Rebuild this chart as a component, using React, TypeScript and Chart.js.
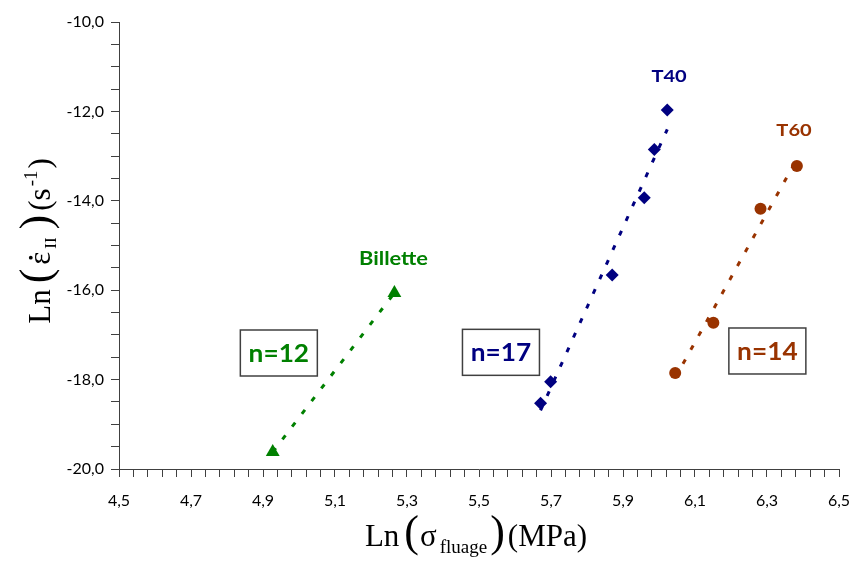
import React, { useEffect, useRef } from 'react';
import { Chart, registerables } from 'chart.js';

Chart.register(...registerables);

// ---- data ----
const billetteX = [4.927, 5.265];
const billetteY = [-19.62, -16.06];
const t40X = [5.671, 5.699, 5.870, 5.959, 5.987, 6.023];
const t40Y = [-18.53, -18.05, -15.66, -13.93, -12.85, -11.97];
const t60X = [6.045, 6.151, 6.282, 6.383];
const t60Y = [-17.85, -16.73, -14.18, -13.22];

// trend line end points
const billetteTrendX = [4.927, 5.265];
const billetteTrendY = [-19.62, -16.06];
const t40TrendX = [5.671, 6.023];
const t40TrendY = [-18.69, -12.40];
const t60TrendX = [6.045, 6.383];
const t60TrendY = [-17.96, -13.07];

const seriesNames = ['Billette', 'T40', 'T60'];
const exponentLabels = ['n=12', 'n=17', 'n=14'];
const xMajorTicks = [4.5, 4.7, 4.9, 5.1, 5.3, 5.5, 5.7, 5.9, 6.1, 6.3, 6.5];
const yMajorTicks = [-20, -18, -16, -14, -12, -10];

const COLORS = ['#008000', '#000080', '#993300'];

// annotation anchors in data coordinates
const nameAnchors = [
  { x: 5.2625, y: -15.3 },
  { x: 6.028, y: -11.21 },
  { x: 6.375, y: -12.43 },
];
const nameSizes = [18.5, 17, 17];
const boxAnchors = [
  { x: 4.944, y: -17.405 },
  { x: 5.561, y: -17.39 },
  { x: 6.301, y: -17.36 },
];

const zip = (xs: number[], ys: number[]) => xs.map((x, i) => ({ x, y: ys[i] }));

const isMajor = (v: number, majors: number[]) => majors.some((m) => Math.abs(m - v) < 1e-6);

type Seg = { t: string; size: number; dy?: number; gap?: number; dot?: boolean };

function drawRich(ctx: CanvasRenderingContext2D, segs: Seg[], cx: number, cy: number, rot: number) {
  ctx.save();
  ctx.translate(cx, cy);
  ctx.rotate(rot);
  ctx.fillStyle = '#000';
  ctx.textBaseline = 'alphabetic';
  ctx.textAlign = 'left';
  let total = 0;
  const widths = segs.map((s) => {
    ctx.font = `${s.size}px "Liberation Serif", "Times New Roman", serif`;
    const w = ctx.measureText(s.t).width;
    total += w + (s.gap || 0);
    return w;
  });
  let x = -total / 2;
  segs.forEach((s, i) => {
    x += s.gap || 0;
    ctx.font = `${s.size}px "Liberation Serif", "Times New Roman", serif`;
    ctx.fillText(s.t, x, s.dy || 0);
    if (s.dot) {
      ctx.beginPath();
      ctx.arc(x + widths[i] / 2 + 0.5, -s.size * 0.62, 1.9, 0, Math.PI * 2);
      ctx.fill();
    }
    x += widths[i];
  });
  ctx.restore();
}

function drawStretched(ctx: CanvasRenderingContext2D, text: string, cx: number, cy: number, font: string, color: string, sx: number) {
  ctx.save();
  ctx.translate(cx, cy);
  ctx.scale(sx, 1);
  ctx.font = font;
  ctx.fillStyle = color;
  ctx.textAlign = 'center';
  ctx.textBaseline = 'middle';
  ctx.fillText(text, 0, 0);
  ctx.restore();
}

const annotationPlugin = {
  id: 'annotations',
  afterDatasetsDraw(chart: any) {
    const ctx: CanvasRenderingContext2D = chart.ctx;
    const xs = chart.scales.x;
    const ys = chart.scales.y;
    seriesNames.forEach((name, i) => {
      const a = nameAnchors[i];
      drawStretched(ctx, name, xs.getPixelForValue(a.x), ys.getPixelForValue(a.y),
        `bold ${nameSizes[i]}px Lato, "Open Sans", sans-serif`, COLORS[i], 1.18);
    });
    exponentLabels.forEach((lab, i) => {
      const a = boxAnchors[i];
      const cx = xs.getPixelForValue(a.x);
      const cy = ys.getPixelForValue(a.y);
      const w = 77, h = 46;
      ctx.save();
      ctx.fillStyle = '#ffffff';
      ctx.fillRect(cx - w / 2, cy - h / 2, w, h);
      ctx.strokeStyle = '#404040';
      ctx.lineWidth = 1.5;
      ctx.strokeRect(cx - w / 2, cy - h / 2, w, h);
      ctx.restore();
      drawStretched(ctx, lab, cx, cy + 1, 'bold 25px Lato, "Open Sans", sans-serif', COLORS[i], 1.05);
    });
  },
  afterDraw(chart: any) {
    const ctx: CanvasRenderingContext2D = chart.ctx;
    // x title
    drawRich(ctx, [
      { t: 'Ln', size: 31 },
      { t: '(', size: 44, gap: 5 },
      { t: 'σ', size: 31, gap: 1 },
      { t: 'fluage', size: 19, dy: 7, gap: 3 },
      { t: ')', size: 44, gap: 3 },
      { t: '(MPa)', size: 31, gap: 3 },
    ], 476, 546, 0);
    // y title
    drawRich(ctx, [
      { t: 'Ln', size: 31 },
      { t: '(', size: 44, gap: 6 },
      { t: 'ε', size: 31, gap: 4, dot: true },
      { t: 'II', size: 17, dy: 6, gap: 3 },
      { t: ')', size: 44, gap: 8 },
      { t: '(s', size: 31, gap: 4 },
      { t: '-1', size: 19, dy: -13, gap: 2 },
      { t: ')', size: 31, gap: 2 },
    ], 50, 241, -Math.PI / 2);
  },
};

export default function App() {
  const ref = useRef<HTMLCanvasElement | null>(null);
  useEffect(() => {
    if (!ref.current) return;
    const axisColor = '#404040';
    const tickFont = { family: 'Lato, "Open Sans", sans-serif', size: 16 };
    const chart = new Chart(ref.current, {
      type: 'scatter',
      data: {
        datasets: [
          {
            label: seriesNames[0], data: zip(billetteX, billetteY), showLine: false,
            pointStyle: 'triangle', pointRadius: 8, backgroundColor: COLORS[0], borderColor: COLORS[0], borderWidth: 0,
          },
          {
            label: seriesNames[1], data: zip(t40X, t40Y), showLine: false,
            pointStyle: 'rectRot', pointRadius: 6.5, backgroundColor: COLORS[1], borderColor: COLORS[1], borderWidth: 0,
          },
          {
            label: seriesNames[2], data: zip(t60X, t60Y), showLine: false,
            pointStyle: 'circle', pointRadius: 6, backgroundColor: COLORS[2], borderColor: COLORS[2], borderWidth: 0,
          },
          {
            label: 'trend Billette', data: zip(billetteTrendX, billetteTrendY), showLine: true, pointRadius: 0,
            borderColor: COLORS[0], borderWidth: 3, borderDash: [5, 11], fill: false,
          },
          {
            label: 'trend T40', data: zip(t40TrendX, t40TrendY), showLine: true, pointRadius: 0,
            borderColor: COLORS[1], borderWidth: 3, borderDash: [5, 11], fill: false,
          },
          {
            label: 'trend T60', data: zip(t60TrendX, t60TrendY), showLine: true, pointRadius: 0,
            borderColor: COLORS[2], borderWidth: 3, borderDash: [5, 11], fill: false,
          },
        ],
      },
      options: {
        animation: false,
        responsive: true,
        maintainAspectRatio: false,
        layout: { padding: { top: 22, right: 16, left: 0, bottom: 0 } },
        plugins: { legend: { display: false }, tooltip: { enabled: false } },
        scales: {
          x: {
            type: 'linear', position: 'bottom', min: 4.5, max: 6.5,
            ticks: {
              stepSize: 0.04, autoSkip: false, maxRotation: 0, minRotation: 0,
              color: '#000', font: tickFont, padding: 14,
              callback: (v: any) => (isMajor(Number(v), xMajorTicks) ? Number(v).toFixed(1).replace('.', ',') : ''),
            },
            grid: { drawOnChartArea: false, drawTicks: true, tickLength: 8, color: axisColor, lineWidth: 1 },
            border: { display: true, color: axisColor, width: 1 },
            afterFit: (s: any) => { s.height = 96; s.paddingLeft = 0; s.paddingRight = 0; },
          },
          y: {
            type: 'linear', position: 'left', min: -20, max: -10,
            ticks: {
              stepSize: 0.5, autoSkip: false, color: '#000', font: tickFont, padding: 7,
              callback: (v: any) => (isMajor(Number(v), yMajorTicks) ? Number(v).toFixed(1).replace('.', ',') : ''),
            },
            grid: { drawOnChartArea: false, drawTicks: true, tickLength: 8, color: axisColor, lineWidth: 1 },
            border: { display: true, color: axisColor, width: 1 },
            afterFit: (s: any) => { s.width = 119; s.paddingTop = 0; s.paddingBottom = 0; },
          },
        },
      },
      plugins: [annotationPlugin],
    } as any);
    return () => chart.destroy();
  }, []);
  return (
    <div style={{ position: 'fixed', left: 0, top: 0, width: 855, height: 565, background: '#fff' }}>
      <canvas ref={ref} />
    </div>
  );
}
